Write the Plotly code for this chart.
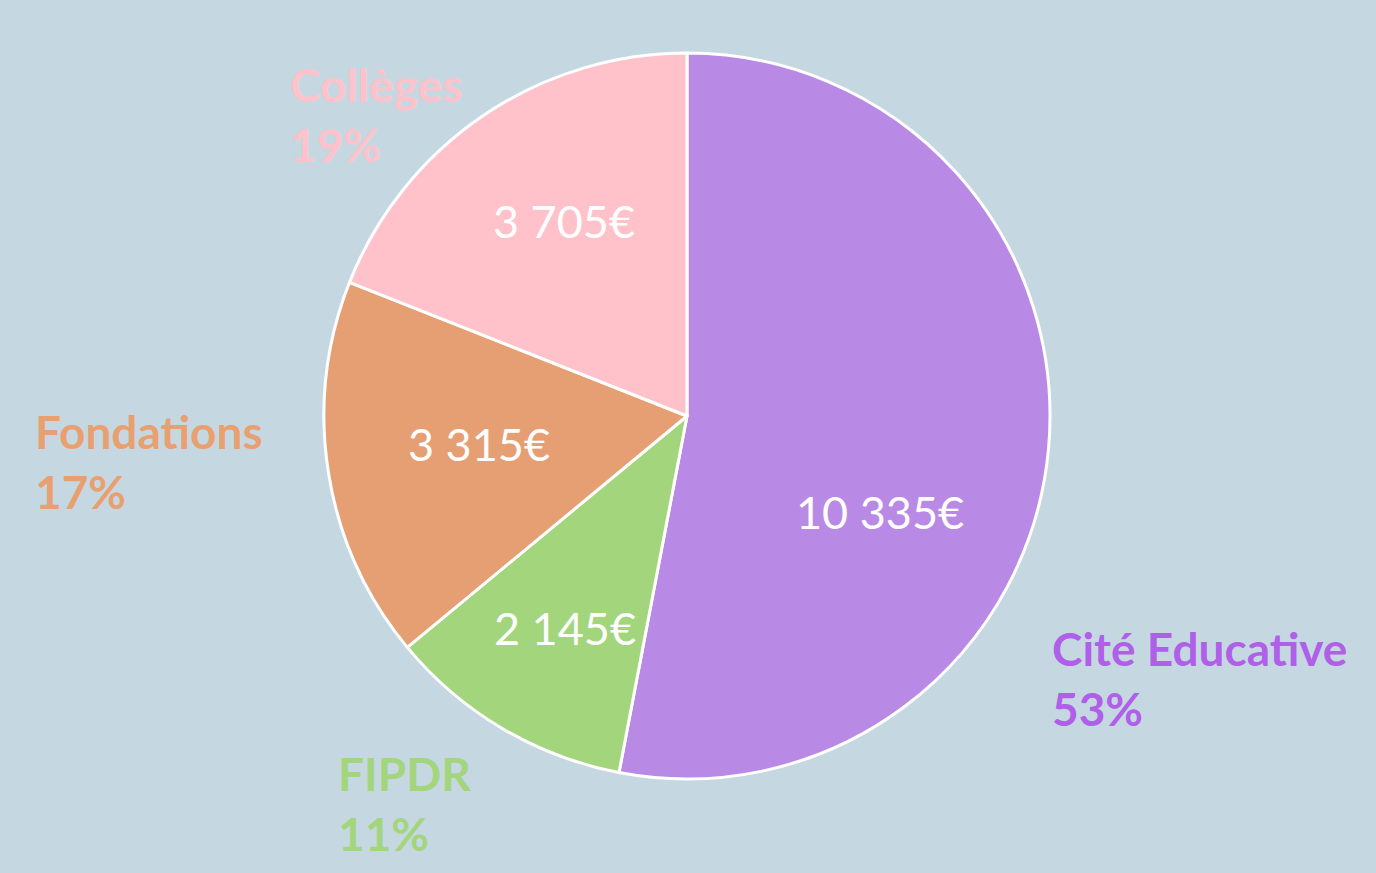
import plotly.graph_objects as go

W, H = 1376, 873

categories = ["Cité Educative", "FIPDR", "Fondations", "Collèges"]
amounts = [10335, 2145, 3315, 3705]
percents = ["53%", "11%", "17%", "19%"]
slice_colors = ["#B98AE5", "#A3D57C", "#E59F73", "#FFC2CB"]
label_colors = ["#B05FE8", "#A3D57C", "#E9A070", "#FFC2CB"]
# top-left corner of each outside label, in pixels
label_pos = [(1050, 619), (336, 744), (33, 402), (288, 55)]
# centre of each amount label inside the pie, in pixels
value_pos = [(880, 513), (565, 629), (479, 445), (564, 222)]

FONT = "Lato"

fig = go.Figure()

fig.add_trace(
    go.Pie(
        labels=categories,
        values=amounts,
        sort=False,
        direction="clockwise",
        rotation=0,
        marker={"colors": slice_colors, "line": {"color": "white", "width": 3}},
        textinfo="none",
        domain={"x": [(687 - 363) / W, (687 + 363) / W], "y": [(457 - 363) / H, (457 + 363) / H]},
        showlegend=False,
        hoverinfo="label+value+percent",
    )
)

for name, pct, color, (px, py) in zip(categories, percents, label_colors, label_pos):
    fig.add_annotation(
        xref="paper",
        yref="paper",
        x=px / W,
        y=1 - py / H,
        xanchor="left",
        yanchor="top",
        align="left",
        showarrow=False,
        text=f"<b>{name}<br>{pct}</b>",
        font={"family": FONT, "size": 46, "color": color},
    )

for amount, (px, py) in zip(amounts, value_pos):
    fig.add_annotation(
        xref="paper",
        yref="paper",
        x=px / W,
        y=1 - (py - 1) / H,
        xanchor="center",
        yanchor="middle",
        showarrow=False,
        text=f"{amount:,}€".replace(",", " "),
        font={"family": FONT, "size": 45, "color": "white"},
    )

fig.update_layout(
    width=W,
    height=H,
    margin={"l": 0, "r": 0, "t": 0, "b": 0},
    paper_bgcolor="#C5D8E2",
    plot_bgcolor="#C5D8E2",
)

fig.write_html(
    "out.html",
    config={"displayModeBar": False},
    post_script="document.body.style.margin = '0';",
)
